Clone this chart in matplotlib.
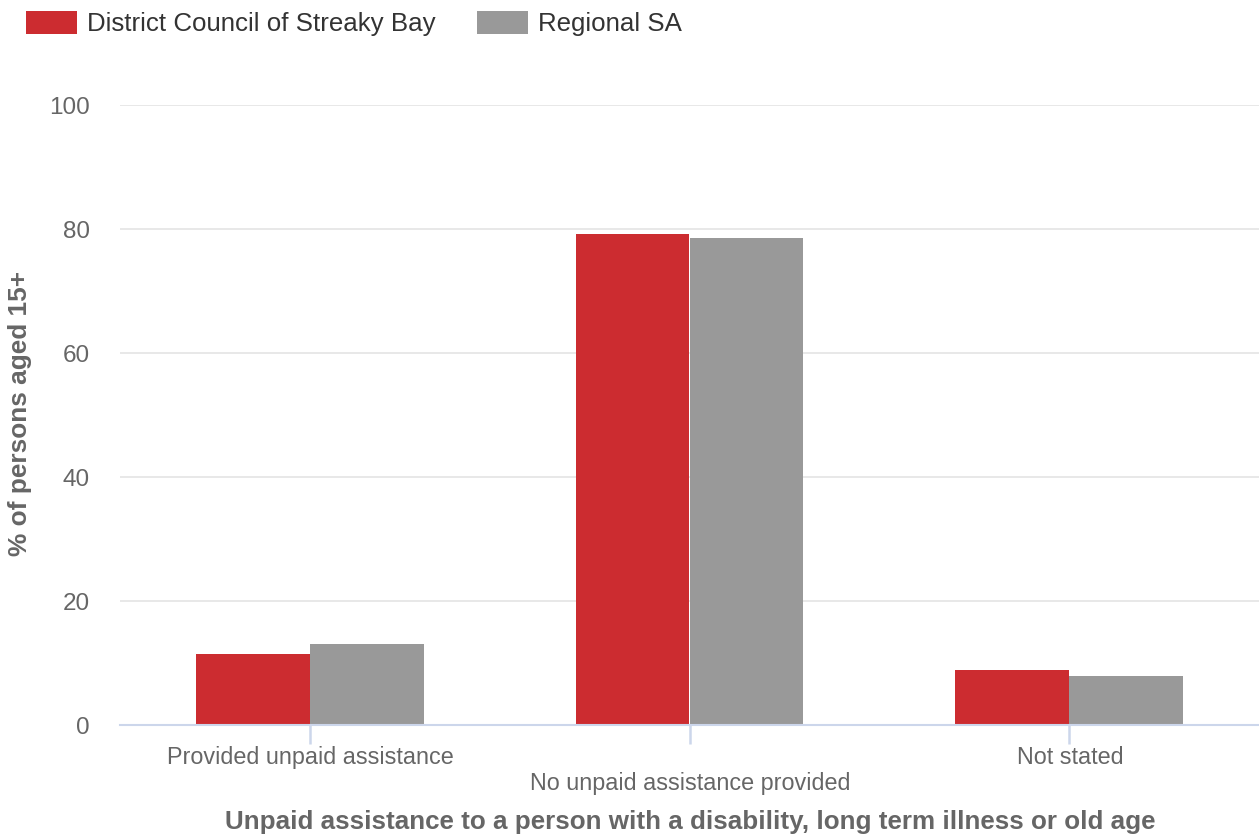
import matplotlib
matplotlib.use("Agg")
import matplotlib.pyplot as plt
import numpy as np
from matplotlib.patches import Patch

plt.rcParams['font.family'] = ['Liberation Sans', 'DejaVu Sans']

categories = ["Provided unpaid assistance", "No unpaid assistance provided", "Not stated"]
series_names = ["District Council of Streaky Bay", "Regional SA"]
streaky_bay = [11.5, 79.2, 8.9]
regional_sa = [13.1, 78.5, 7.9]
colors = ["#cc2c30", "#999999"]
yticks = [0, 20, 40, 60, 80, 100]

fig = plt.figure(figsize=(12.59, 8.39), dpi=100)
ax = fig.add_axes([120/1259, 1 - 725/839, 1139/1259, 620/839])

x = np.arange(len(categories))
w = 0.3
ax.bar(x - w/2, streaky_bay, width=w, color=colors[0], zorder=3)
ax.bar(x + w/2, regional_sa, width=w, color=colors[1], zorder=3)

ax.set_xlim(-0.5, 2.5)
ax.set_ylim(0, 100)
ax.set_yticks(yticks)
ax.set_yticklabels([str(t) for t in yticks], fontsize=17.5, color="#666666")
ax.tick_params(axis='y', length=0, pad=21.6)
ax.grid(axis='y', color="#e6e6e6", linewidth=1.3, zorder=0)
for s in ["top", "right", "left"]:
    ax.spines[s].set_visible(False)
ax.spines["bottom"].set_color("#ccd6eb")
ax.spines["bottom"].set_linewidth(1.5)
ax.spines["bottom"].set_zorder(4)

ax.set_xticks(x)
ax.set_xticklabels([])
ax.tick_params(axis='x', length=13.5, color="#ccd6eb", width=1.8)
for i, lab in enumerate(categories):
    ypix = 764 if i % 2 == 0 else 790
    fig.text((120 + 380 * (i + 0.5)) / 1259, 1 - ypix / 839, lab,
             ha='center', va='baseline', fontsize=16.8, color="#666666")

fig.text(690/1259, 1 - 829/839,
         "Unpaid assistance to a person with a disability, long term illness or old age",
         ha='center', va='baseline', fontsize=18.7, fontweight='bold', color="#666666")
fig.text(20/1259, 1 - 413/839, "% of persons aged 15+", rotation=90,
         ha='center', va='center', fontsize=18.9, fontweight='bold', color="#666666")

handles = [Patch(facecolor=colors[0]), Patch(facecolor=colors[1])]
leg = fig.legend(handles, series_names, loc='upper left', bbox_to_anchor=(26/1259, 1 - 11/839),
                 ncol=2, frameon=False, fontsize=18.6, handlelength=1.97, handleheight=0.97,
                 handletextpad=0.39, columnspacing=1.6, labelcolor="#333333",
                 borderpad=0, borderaxespad=0)

fig.savefig("out.png", dpi=100)
